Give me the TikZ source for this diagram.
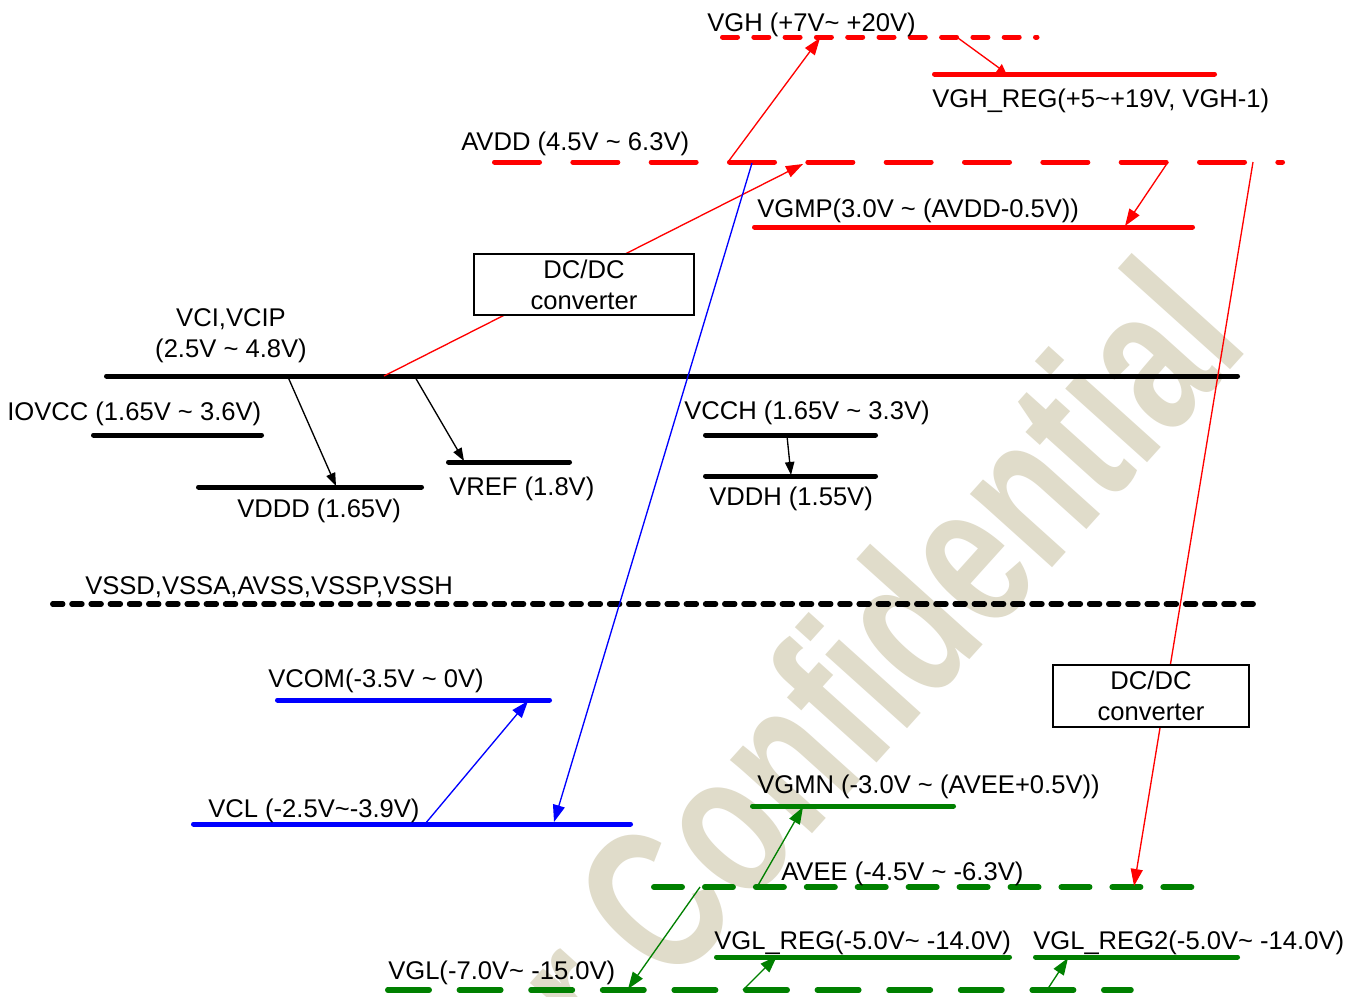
\documentclass[tikz,border=0pt]{standalone}
\usepackage{fontspec}
\setmainfont{Liberation Sans}
\usetikzlibrary{arrows.meta}
\definecolor{wm}{RGB}{224,220,202}
\definecolor{dgreen}{RGB}{0,128,0}
\newcommand{\mytilde}{\textasciitilde}
\begin{document}
\begin{tikzpicture}[x=0.75pt,y=-0.75pt,
  rail/.style={line width=3.75pt, line cap=round},
  drail/.style={line width=4.1pt, line cap=round},
  thinline/.style={line width=1pt},
  lbl/.style={anchor=base west, inner sep=0pt, font=\fontsize{19.2}{23.25}\selectfont},
  tipc/.style={-{Triangle[length=12.75pt,width=9pt]}},
  tipk/.style={-{Triangle[length=9.75pt,width=7pt]}},
  tips/.style={-{Triangle[length=6.5pt,width=7pt]}},
  convbox/.style={draw, line width=1pt, fill=white, align=center, inner sep=0pt,
    font=\fontsize{19.2}{23.25}\selectfont}
]
\useasboundingbox (0,0) rectangle (1362,996);
\fill[white] (0,0) rectangle (1362,996);

% watermark
\node[rotate=48, xscale=0.9, yscale=1.25, transform shape, anchor=base east, inner sep=0pt, text=wm,
  font=\bfseries\fontsize{125}{125}\selectfont] (wmark) at (1252,346) {r Confidential};

% rails
\draw[rail, red, dash pattern=on 11.25pt off 12.225pt] (722.5,37) -- (1037,37);
\draw[rail, red] (934.5,74) -- (1214.5,74);
\draw[rail, red, dash pattern=on 33.75pt off 25pt] (494.5,162) -- (1282.5,162);
\draw[rail, red] (754.5,227) -- (1192.5,227);
\draw[rail, black] (106.5,376) -- (1237.5,376);
\draw[rail, black] (93.5,435) -- (261.5,435);
\draw[rail, black] (198.5,487) -- (421.5,487);
\draw[rail, black] (448.5,462) -- (569.5,462);
\draw[rail, black] (705.5,435) -- (875.5,435);
\draw[rail, black] (705.5,476) -- (875.5,476);
\draw[drail, black, dash pattern=on 7.5pt off 6.9pt] (52.75,604) -- (1261,604);
\draw[rail, blue] (277.5,700) -- (549.5,700);
\draw[rail, blue] (193.5,824) -- (630.5,824);
\draw[rail, dgreen] (752.5,806) -- (953.5,806);
\draw[line width=4.5pt, line cap=round, dgreen, dash pattern=on 21pt off 17.2pt] (654,887) -- (1193,887);
\draw[rail, dgreen] (716.5,957) -- (1009.5,957);
\draw[rail, dgreen] (1035.5,957) -- (1237.5,957);
\draw[drail, dgreen, dash pattern=on 31.1pt off 22.6pt] (387.75,990) -- (1131,990);

% connector end points
\coordinate (avddA) at (728,162);
\coordinate (vghT) at (820,38);
\coordinate (vghA) at (958,38);
\coordinate (vghregT) at (1006,73);
\coordinate (vciA) at (384,376);
\coordinate (avddT) at (803,164);
\coordinate (avddB) at (1168,162);
\coordinate (vgmpT) at (1125,226);
\coordinate (avddC) at (1253,162);
\coordinate (aveeT) at (1134,886);
\coordinate (avddD) at (752,163);
\coordinate (vclT) at (554,822);
\coordinate (vclA) at (425,824);
\coordinate (vcomT) at (528,701);
\coordinate (vciB) at (288,377);
\coordinate (vdddT) at (336,486);
\coordinate (vciC) at (415,377);
\coordinate (vrefT) at (464,461);
\coordinate (vcchA) at (787,436);
\coordinate (vddhT) at (791,475);
\coordinate (aveeA) at (757,887);
\coordinate (vgmnT) at (803,807);
\coordinate (aveeB) at (700,887);
\coordinate (vglT) at (628,989);
\coordinate (vglA) at (743,990);
\coordinate (vglregT) at (777,956);
\coordinate (vglB) at (1047,990);
\coordinate (vglregbT) at (1068,958);

% connectors
\draw[thinline, red, tipc] (avddA) -- (vghT);
\draw[thinline, red, tips] (vghA) -- (vghregT);
\draw[thinline, red, tipc] (vciA) -- (avddT);
\draw[thinline, red, tipc] (avddB) -- (vgmpT);
\draw[thinline, red, tipc] (avddC) -- (aveeT);
\draw[thinline, blue, tipc] (avddD) -- (vclT);
\draw[thinline, blue, tipc] (vclA) -- (vcomT);
\draw[thinline, black, tipk] (vciB) -- (vdddT);
\draw[thinline, black, tipk] (vciC) -- (vrefT);
\draw[thinline, black, tipk] (vcchA) -- (vddhT);
\draw[thinline, dgreen, tipc] (aveeA) -- (vgmnT);
\draw[thinline, dgreen, tipc] (aveeB) -- (vglT);
\draw[thinline, dgreen, tipc] (vglA) -- (vglregT);
\draw[thinline, dgreen, tipc] (vglB) -- (vglregbT);

% converter boxes
\node[convbox, minimum width=165pt, minimum height=45.75pt] (conv1) at (584,284.5) {DC/DC\\converter};
\node[convbox, minimum width=147pt, minimum height=46.5pt] (conv2) at (1151,696) {DC/DC\\converter};

% labels
\node[lbl] (lvgh) at (707,31) {VGH (+7V\mytilde{} +20V)};
\node[lbl] (lvghreg) at (932,107) {VGH\_REG(+5\mytilde{}+19V, VGH-1)};
\node[lbl] (lavdd) at (461,150) {AVDD (4.5V \mytilde{} 6.3V)};
\node[lbl] (lvgmp) at (757,217) {VGMP(3.0V \mytilde{} (AVDD-0.5V))};
\node[anchor=center, inner sep=0pt, align=center, font=\fontsize{19.2}{23.25}\selectfont] (lvci) at (231,336) {VCI,VCIP\\(2.5V \mytilde{} 4.8V)};
\node[lbl] (liovcc) at (7,420) {IOVCC (1.65V \mytilde{} 3.6V)};
\node[lbl] (lvddd) at (237,517) {VDDD (1.65V)};
\node[lbl] (lvref) at (449,495) {VREF (1.8V)};
\node[lbl] (lvcch) at (684,419) {VCCH (1.65V \mytilde{} 3.3V)};
\node[lbl] (lvddh) at (709,505) {VDDH (1.55V)};
\node[lbl] (lvss) at (85,594) {VSSD,VSSA,AVSS,VSSP,VSSH};
\node[lbl] (lvcom) at (268,687) {VCOM(-3.5V \mytilde{} 0V)};
\node[lbl] (lvcl) at (208,817) {VCL (-2.5V\mytilde{}-3.9V)};
\node[lbl] (lvgmn) at (757,793) {VGMN (-3.0V \mytilde{} (AVEE+0.5V))};
\node[lbl] (lavee) at (781,880) {AVEE (-4.5V \mytilde{} -6.3V)};
\node[lbl] (lvglreg) at (714,949) {VGL\_REG(-5.0V\mytilde{} -14.0V)};
\node[lbl] (lvglregb) at (1033,949) {VGL\_REG2(-5.0V\mytilde{} -14.0V)};
\node[lbl] (lvgl) at (388,979) {VGL(-7.0V\mytilde{} -15.0V)};
\end{tikzpicture}
\end{document}
